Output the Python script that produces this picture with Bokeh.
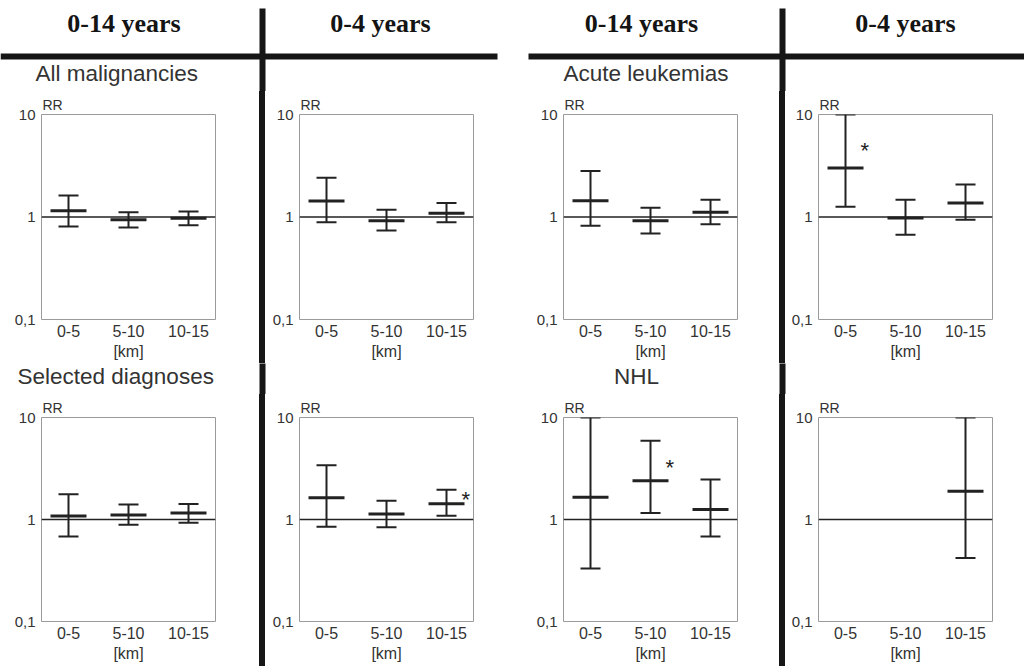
from bokeh.plotting import figure
from bokeh.layouts import row, column
from bokeh.models import (Range1d, FixedTicker, Span, Whisker, TeeHead,
                          ColumnDataSource, Div)
from bokeh.core.properties import value
from bokeh.embed import file_html
from bokeh.resources import INLINE

# ---------------- data ----------------
categories = ["0-5", "5-10", "10-15"]
age_groups = ["0-14 years", "0-4 years", "0-14 years", "0-4 years"]
top_titles = ["All malignancies", "", "Acute leukemias", ""]
bottom_titles = ["Selected diagnoses", "", "NHL", ""]

# relative risk estimates and 95% CI, per panel
all_0_14_est = [1.15, 0.94, 0.97]
all_0_14_lo = [0.81, 0.79, 0.83]
all_0_14_up = [1.62, 1.11, 1.13]

all_0_4_est = [1.43, 0.92, 1.09]
all_0_4_lo = [0.89, 0.74, 0.89]
all_0_4_up = [2.41, 1.18, 1.37]

al_0_14_est = [1.44, 0.92, 1.11]
al_0_14_lo = [0.82, 0.69, 0.85]
al_0_14_up = [2.81, 1.23, 1.47]

al_0_4_est = [3.0, 0.98, 1.37]
al_0_4_lo = [1.26, 0.67, 0.94]
al_0_4_up = [10.0, 1.47, 2.08]

sel_0_14_est = [1.08, 1.11, 1.16]
sel_0_14_lo = [0.68, 0.89, 0.93]
sel_0_14_up = [1.77, 1.40, 1.42]

sel_0_4_est = [1.63, 1.13, 1.43]
sel_0_4_lo = [0.85, 0.84, 1.09]
sel_0_4_up = [3.41, 1.53, 1.96]

nhl_0_14_est = [1.65, 2.40, 1.25]
nhl_0_14_lo = [0.33, 1.16, 0.68]
nhl_0_14_up = [10.0, 5.93, 2.47]

nhl_0_4_est = [None, None, 1.89]
nhl_0_4_lo = [None, None, 0.42]
nhl_0_4_up = [None, None, 10.0]

# significance markers
al_0_4_sig = [True, False, False]
sel_0_4_sig = [False, False, True]
nhl_0_14_sig = [False, True, False]
no_sig = [False, False, False]

y_ticks = [0.1, 1, 10]
y_tick_labels = ["0,1", "1", "10"]

# ---------------- style / layout ----------------
INK = "#222222"
TXT = "#333333"
BAR = "#161616"
SANS = "Liberation Sans"
PAGE_W = 1024

col_widths = [259, 247, 267, 239]
col_left = [41, 34, 51, 33]
vline_x = [259, 779]
LINE_T = 6
FRAME_W = 174

HEAD_H = 91          # header strip (age groups + top-row titles)
MID_H = 31           # strip with bottom-row titles
TOP_H, TOP_FT, TOP_FH = 272, 23, 205
BOT_H, BOT_FT, BOT_FH = 272, 23, 204


def strip(height):
    f = figure(width=PAGE_W, height=height, x_range=Range1d(0, PAGE_W),
               y_range=Range1d(height, 0), x_axis_type=None,
               y_axis_type=None, output_backend="svg",
               toolbar_location=None, tools="", min_border=0, title=None)
    f.outline_line_color = None
    f.background_fill_color = "white"
    f.border_fill_color = "white"
    f.xgrid.visible = False
    f.ygrid.visible = False
    return f


def panel(width, left, height, ftop, fh, est, lo, up, sig):
    right = width - left - FRAME_W
    bottom = height - ftop - fh
    p = figure(width=width, height=height, x_range=Range1d(0.55, 3.45),
               y_range=Range1d(0.1, 10), y_axis_type="log",
               output_backend="svg", toolbar_location=None, tools="",
               min_border_left=left, min_border_right=right,
               min_border_top=ftop, min_border_bottom=bottom,
               title="RR")
    p.title.align = "left"
    p.title.offset = 1
    p.title.standoff = 4
    p.title.vertical_align = "bottom"
    p.title.text_font = SANS
    p.title.text_font_style = "normal"
    p.title.text_font_size = "14px"
    p.title.text_color = TXT

    p.background_fill_color = "white"
    p.border_fill_color = "white"
    p.outline_line_color = "#9a9a9a"
    p.outline_line_width = 1
    p.xgrid.visible = False
    p.ygrid.visible = False

    p.xaxis.ticker = FixedTicker(ticks=[1, 2, 3])
    p.xaxis.major_label_overrides = {i + 1: c for i, c in enumerate(categories)}
    p.xaxis.axis_label = "[km]"
    p.yaxis.ticker = FixedTicker(ticks=y_ticks)
    p.yaxis.major_label_overrides = dict(zip(y_ticks, y_tick_labels))
    for ax in (p.xaxis, p.yaxis):
        ax.axis_line_color = None
        ax.major_tick_line_color = None
        ax.minor_tick_line_color = None
        ax.major_tick_out = 0
        ax.major_tick_in = 0
        ax.major_label_text_font = SANS
        ax.major_label_text_color = TXT
    p.xaxis.major_label_text_font_size = "16px"
    p.xaxis.major_label_standoff = 5
    p.xaxis.axis_label_text_font = SANS
    p.xaxis.axis_label_text_font_style = "normal"
    p.xaxis.axis_label_text_font_size = "16px"
    p.xaxis.axis_label_text_color = TXT
    p.xaxis.axis_label_standoff = 3
    p.yaxis.major_label_text_font_size = "15px"
    p.yaxis.major_label_standoff = 6

    p.add_layout(Span(location=1, dimension="width", line_color=INK,
                      line_width=1.5))

    xs, e, l, u, sx, sy = [], [], [], [], [], []
    for i in range(len(categories)):
        if est[i] is None:
            continue
        xs.append(i + 1)
        e.append(est[i])
        l.append(lo[i])
        u.append(up[i])
        if sig[i]:
            sx.append(i + 1 + 0.32)
            sy.append(est[i] * (up[i] / est[i]) ** 0.33)
    src = ColumnDataSource(dict(x=xs, est=e, lo=l, up=u))
    w = Whisker(source=src, base="x", lower="lo", upper="up",
                dimension="height", line_color=INK, line_width=2,
                upper_head=TeeHead(size=20, line_color=INK, line_width=2),
                lower_head=TeeHead(size=20, line_color=INK, line_width=2))
    p.add_layout(w)
    p.scatter("x", "est", source=src, marker="dash", size=36,
              line_width=3, line_color=INK)
    if sx:
        p.text(x=sx, y=sy, text=["*"] * len(sx), text_font=value(SANS),
               text_font_size="22px", text_align="center",
               text_baseline="middle", text_color=INK)
    return p


def bar(width, height):
    return Div(text="", width=width, height=height, margin=0,
               styles={"background-color": BAR})


# ---- header strip: age-group headers, separator lines, top-row titles ----
head = strip(HEAD_H)
head_cx = [123.5, 380, 641, 905]
head.text(x=head_cx, y=[23] * 4, text=age_groups,
          text_font=value("Liberation Serif"), text_font_style="bold",
          text_font_size="26px", text_align="center",
          text_baseline="middle", text_color="#141414")
# horizontal separators (gap between the two halves) and vertical separators
head.quad(left=[0, 528], right=[497, PAGE_W], top=[53, 53],
          bottom=[53 + LINE_T, 53 + LINE_T], fill_color=BAR, line_color=None)
head.quad(left=vline_x, right=[v + LINE_T for v in vline_x], top=[8, 8],
          bottom=[HEAD_H + 2, HEAD_H + 2], fill_color=BAR, line_color=None)
top_title_x = [35, 0, 563, 0]
for c in range(4):
    if top_titles[c]:
        head.text(x=[top_title_x[c]], y=[72.5], text=[top_titles[c]],
                  text_font=value(SANS), text_font_size="22.5px",
                  text_align="left", text_baseline="middle",
                  text_color=TXT)

# ---- middle strip: bottom-row titles ----
mid = strip(MID_H)
mid.quad(left=vline_x, right=[v + LINE_T for v in vline_x], top=[-2, -2],
         bottom=[MID_H + 2, MID_H + 2], fill_color=BAR, line_color=None)
bot_title_pos = [(17, "left"), (0, "left"), (636, "center"), (0, "left")]
for c in range(4):
    if bottom_titles[c]:
        bx, ba = bot_title_pos[c]
        mid.text(x=[bx], y=[13], text=[bottom_titles[c]],
                 text_font=value(SANS), text_font_size="22.5px",
                 text_align=ba, text_baseline="middle", text_color=TXT)

top_data = [(all_0_14_est, all_0_14_lo, all_0_14_up, no_sig),
            (all_0_4_est, all_0_4_lo, all_0_4_up, no_sig),
            (al_0_14_est, al_0_14_lo, al_0_14_up, no_sig),
            (al_0_4_est, al_0_4_lo, al_0_4_up, al_0_4_sig)]
bot_data = [(sel_0_14_est, sel_0_14_lo, sel_0_14_up, no_sig),
            (sel_0_4_est, sel_0_4_lo, sel_0_4_up, sel_0_4_sig),
            (nhl_0_14_est, nhl_0_14_lo, nhl_0_14_up, nhl_0_14_sig),
            (nhl_0_4_est, nhl_0_4_lo, nhl_0_4_up, no_sig)]


def panel_row(height, ftop, fh, data):
    ps = [panel(col_widths[c], col_left[c], height, ftop, fh, *data[c])
          for c in range(4)]
    return row(ps[0], bar(LINE_T, height), ps[1], ps[2],
               bar(LINE_T, height), ps[3], spacing=0)


layout = column(head,
                panel_row(TOP_H, TOP_FT, TOP_FH, top_data),
                mid,
                panel_row(BOT_H, BOT_FT, BOT_FH, bot_data),
                spacing=0)

open("out.html", "w").write(file_html(layout, INLINE))
